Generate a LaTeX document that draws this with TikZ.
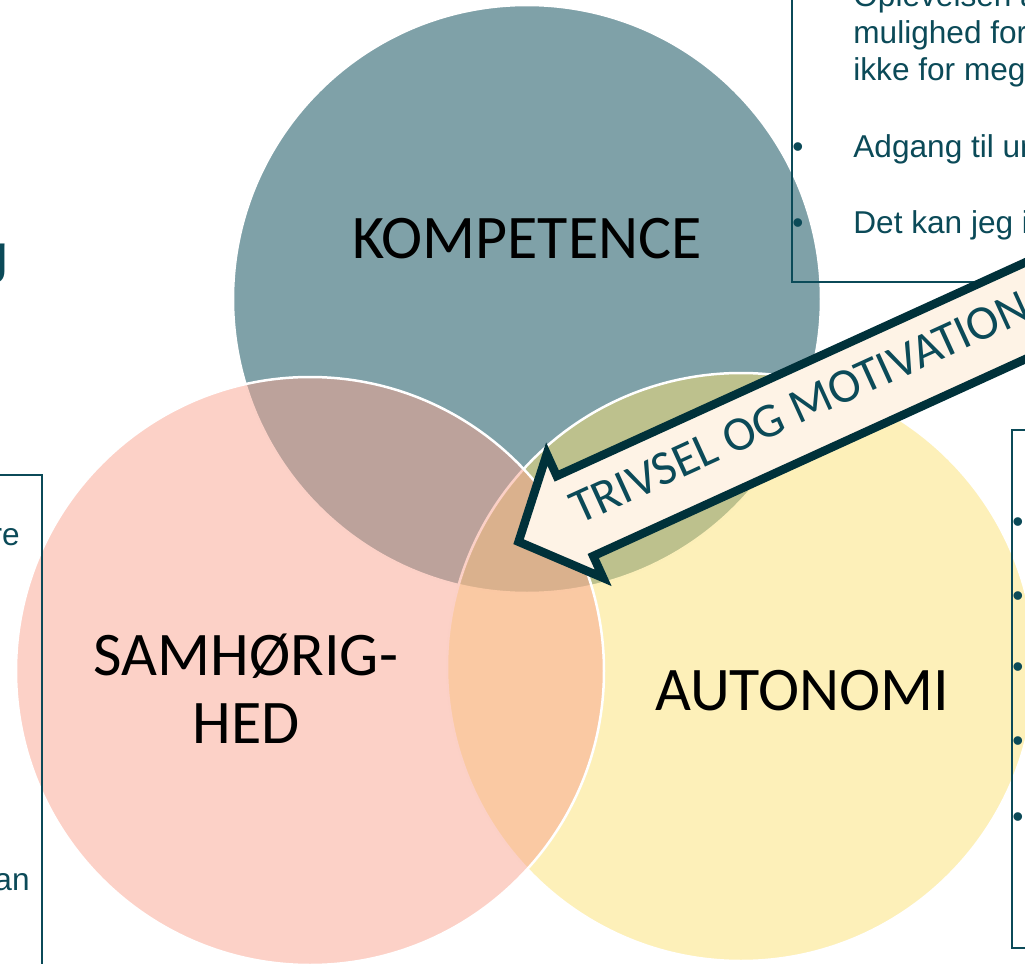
\documentclass[tikz,border=0pt]{standalone}
\usepackage{fontspec}
\setmainfont{Carlito}
\newfontfamily\boxfont{Liberation Sans}
\usepackage{tikz}
\usetikzlibrary{positioning}
\definecolor{kompcol}{RGB}{0,67,81}
\definecolor{autocol}{RGB}{251,225,115}
\definecolor{samhcol}{RGB}{249,163,143}
\definecolor{myteal}{RGB}{11,74,88}
\definecolor{arrowline}{RGB}{0,49,58}
\definecolor{arrowfill}{RGB}{254,243,230}

\begin{document}
\begin{tikzpicture}[x=0.5pt,y=-0.5pt]
	\useasboundingbox (0,0) rectangle (1025,964);
	\clip (0,0) rectangle (1025,964);

	\begin{scope}[every node/.style={circle, draw=white, line width=1.25pt, fill opacity=0.5, draw opacity=1, minimum size=294pt, inner sep=0}]
	    \node[fill=kompcol] (komp) at (527,299) {};
	    \node[fill=autocol] (auto) at (741,667) {};
	    \node[fill=samhcol] (samh) at (310,671) {};
	\end{scope}

	\begin{scope}[every node/.style={inner sep=0, anchor=base, font=\fontsize{31}{34}\selectfont}]
	    \node (kompText) at (527,258) {KOMPETENCE};
	    \node (samhText) at (246,675) {SAMHØRIG-};
	    \node (hedText) at (246,743) {HED};
	    \node (autoText) at (802,710) {AUTONOMI};
	\end{scope}

	\begin{scope}[draw=myteal, line width=1pt]
	    \draw (792,-60) rectangle (1300,282);
	    \draw (-300,475) rectangle (42,1100);
	    \draw (1012,430) rectangle (1300,948);
	\end{scope}

	\begin{scope}[every node/.style={inner sep=0, anchor=base west, text=myteal, font=\boxfont\fontsize{15.8}{18.5}\selectfont}]
	    \node (kompLine1) at (853,6) {Oplevelsen a};
	    \node (kompLine2) at (853,43) {mulighed for};
	    \node (kompLine3) at (853,80) {ikke for meg};
	    \node (kompLine4) at (853,157) {Adgang til ur};
	    \node (kompLine5) at (853,233) {Det kan jeg i};
	    \node (kompDot1) [anchor=base] at (798,157) {\textbullet};
	    \node (kompDot2) [anchor=base] at (798,233) {\textbullet};
	    \node (autoDot1) [anchor=base] at (1018,532) {\textbullet};
	    \node (autoDot2) [anchor=base] at (1018,606) {\textbullet};
	    \node (autoDot3) [anchor=base] at (1018,677) {\textbullet};
	    \node (autoDot4) [anchor=base] at (1018,751) {\textbullet};
	    \node (autoDot5) [anchor=base] at (1018,827) {\textbullet};
	    \node (samhLine1) [anchor=base east] at (20,545) {re};
	    \node (samhLine2) [anchor=base east] at (30,890) {an};
	    \node (titleEnd) [anchor=base east, font=\boxfont\fontsize{27}{30}\selectfont] at (9,272) {g};
	\end{scope}

	\begin{scope}[shift={(575,516)}, rotate=24.5]
	    \draw[fill=arrowfill, draw=arrowline, line width=4.25pt] (-62,0) -- (0,-68) -- (0,-44) -- (620,-44) -- (620,44) -- (0,44) -- (0,68) -- cycle;
	\end{scope}
	\node (trivsel) [inner sep=0, anchor=base west, rotate=24.5, text=myteal, font=\fontsize{24.3}{28}\selectfont] at (579,525) {TRIVSEL OG MOTIVATION};
\end{tikzpicture}
\end{document}
